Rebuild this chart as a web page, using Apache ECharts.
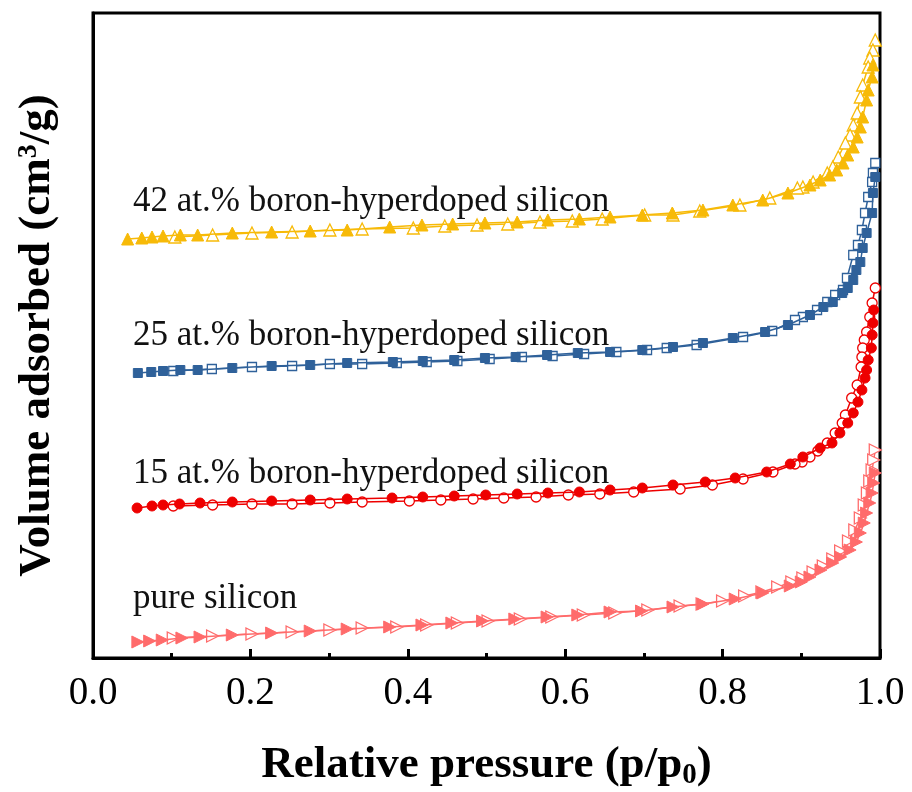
<!DOCTYPE html>
<html>
<head>
<meta charset="utf-8">
<script src="https://cdn.jsdelivr.net/npm/echarts@6/dist/echarts.min.js"></script>
<style>html,body{margin:0;padding:0;background:#fff;}#c{width:912px;height:792px;}</style>
</head>
<body>
<div id="c"></div>
<script>
// x: relative pressure p/p0 ; y: volume adsorbed (arbitrary offset units)
const xTicks = [0.0, 0.2, 0.4, 0.6, 0.8, 1.0];

const pureAds = [[0.057,16],[0.072,17],[0.088,18],[0.113,20],[0.136,21],[0.177,23],[0.227,25],[0.276,27],[0.323,29],[0.377,31],[0.418,33],[0.456,35],[0.495,37],[0.536,39],[0.577,41],[0.616,43],[0.657,46],[0.697,47],[0.737,51],[0.775,54],[0.816,59],[0.851,65],[0.886,72],[0.900,76],[0.911,81],[0.925,88],[0.940,95],[0.950,101],[0.962,108],[0.970,116],[0.975,125],[0.980,135],[0.983,145],[0.987,155],[0.990,165],[0.992,175],[0.994,185]];
const pureDes = [[0.994,208],[0.992,198],[0.990,188],[0.987,177],[0.984,165],[0.980,153],[0.975,140],[0.968,128],[0.960,117],[0.950,107],[0.940,99],[0.928,92],[0.915,86],[0.902,80],[0.888,76],[0.870,71],[0.850,66],[0.828,62],[0.800,57],[0.774,54],[0.746,52],[0.705,48],[0.663,45],[0.623,43],[0.583,41],[0.543,39],[0.502,37],[0.463,35],[0.424,33],[0.386,31],[0.342,30],[0.301,28],[0.253,26],[0.202,24],[0.152,22],[0.102,20]];

const b15Ads = [[0.056,150],[0.075,152],[0.089,153],[0.110,154],[0.136,155],[0.177,156],[0.227,157],[0.276,158],[0.323,159],[0.380,160],[0.419,161],[0.459,162],[0.499,163],[0.539,164],[0.578,165],[0.618,166],[0.657,168],[0.698,170],[0.737,173],[0.778,176],[0.816,180],[0.856,186],[0.886,194],[0.902,201],[0.924,210],[0.939,215],[0.949,225],[0.959,235],[0.966,245],[0.972,256],[0.977,268],[0.981,280],[0.983,288],[0.985,298],[0.989,310],[0.990,323],[0.991,335],[0.992,348]];
const b15Des = [[0.994,370],[0.990,355],[0.987,341],[0.983,326],[0.980,318],[0.978,310],[0.977,301],[0.976,291],[0.971,273],[0.964,260],[0.956,243],[0.952,235],[0.943,225],[0.933,215],[0.921,207],[0.911,201],[0.901,196],[0.892,194],[0.864,186],[0.826,179],[0.787,173],[0.746,169],[0.687,166],[0.644,164],[0.604,163],[0.563,161],[0.522,160],[0.483,159],[0.442,158],[0.402,157],[0.342,156],[0.301,155],[0.253,154],[0.202,154],[0.152,153],[0.102,152]];

const b25Ads = [[0.057,285],[0.074,286],[0.089,287],[0.111,288],[0.133,288],[0.177,290],[0.227,292],[0.276,293],[0.323,295],[0.381,296],[0.419,297],[0.459,298],[0.498,300],[0.537,301],[0.577,303],[0.616,305],[0.657,306],[0.698,308],[0.737,311],[0.775,315],[0.813,320],[0.854,326],[0.883,333],[0.911,343],[0.928,351],[0.940,356],[0.952,365],[0.959,370],[0.966,378],[0.970,388],[0.975,396],[0.978,410],[0.983,425],[0.990,445],[0.991,465],[0.994,481]];
const b25Des = [[0.994,495],[0.991,485],[0.990,476],[0.985,461],[0.981,445],[0.977,428],[0.972,413],[0.966,403],[0.958,380],[0.953,368],[0.943,363],[0.933,356],[0.920,348],[0.902,341],[0.892,338],[0.863,327],[0.826,321],[0.767,313],[0.729,310],[0.704,308],[0.665,306],[0.624,304],[0.584,302],[0.545,301],[0.504,299],[0.463,297],[0.424,296],[0.386,295],[0.342,294],[0.301,294],[0.253,292],[0.202,291],[0.151,289],[0.102,287]];

const b42Ads = [[0.044,419],[0.062,420],[0.075,421],[0.089,422],[0.111,423],[0.133,423],[0.177,425],[0.227,426],[0.276,427],[0.323,428],[0.377,431],[0.418,433],[0.457,434],[0.498,435],[0.539,436],[0.578,438],[0.618,439],[0.657,441],[0.698,443],[0.736,445],[0.775,448],[0.813,453],[0.851,458],[0.883,465],[0.911,473],[0.924,478],[0.936,483],[0.945,488],[0.953,495],[0.959,503],[0.966,511],[0.971,521],[0.975,531],[0.978,541],[0.983,558],[0.985,568],[0.990,581],[0.991,593]];
const b42Des = [[0.994,618],[0.991,608],[0.987,600],[0.985,591],[0.978,573],[0.975,561],[0.971,545],[0.966,533],[0.962,523],[0.956,515],[0.947,501],[0.940,491],[0.933,485],[0.915,476],[0.902,471],[0.895,470],[0.860,460],[0.822,453],[0.771,447],[0.737,443],[0.701,443],[0.647,439],[0.609,437],[0.568,436],[0.527,434],[0.488,433],[0.447,432],[0.407,430],[0.342,429],[0.301,428],[0.253,426],[0.202,425],[0.152,423],[0.104,421]];

const sampleLabels = ['42 at.% boron-hyperdoped silicon','25 at.% boron-hyperdoped silicon','15 at.% boron-hyperdoped silicon','pure silicon'];

const C42 = '#F7BA08', C25 = '#2F619A', C15 = '#EE0000', CPure = '#FF6B6B';

function ser(data, color, symbol, filled, size, rot) {
  return {
    type: 'line', data: data, symbol: symbol, symbolSize: size, symbolRotate: rot || 0,
    lineStyle: {color: color, width: 1.5},
    itemStyle: filled ? {color: color, borderColor: color, borderWidth: 1}
                      : {color: '#ffffff', borderColor: color, borderWidth: 1.3},
    showSymbol: true, animation: false, z: filled ? 3 : 2
  };
}

const chart = echarts.init(document.getElementById('c'));
const labelFont = {fontFamily: 'Liberation Serif', fontSize: 35, fill: '#111'};
chart.setOption({
  backgroundColor: '#fff',
  animation: false,
  grid: {left: 93, right: 32, top: 13, bottom: 134, show: true, borderColor: '#000', borderWidth: 3,
    backgroundColor: 'transparent', containLabel: false, outerBoundsMode: 'none'},
  xAxis: {
    type: 'value', min: 0, max: 1, interval: 0.2,
    axisLine: {show: true, lineStyle: {color: '#000', width: 3}},
    axisTick: {show: true, inside: true, length: 9, lineStyle: {color: '#000', width: 3}},
    minorTick: {show: true, splitNumber: 2, length: 5, lineStyle: {color: '#000', width: 3}},
    splitLine: {show: false},
    axisLabel: {margin: 16, fontFamily: 'Liberation Serif', fontSize: 39, color: '#000',
      formatter: v => v.toFixed(1)},
    name: 'Relative pressure (p/p{sub|0})', nameLocation: 'middle', nameGap: 82,
    nameTextStyle: {fontFamily: 'Liberation Serif', fontWeight: 'bold', fontSize: 45, color: '#000',
      rich: {sub: {fontFamily: 'Liberation Serif', fontWeight: 'bold', fontSize: 29, verticalAlign: 'top', padding: [21, 0, 0, 0]}}}
  },
  yAxis: {
    type: 'value', min: 0, max: 645,
    axisLine: {show: true, lineStyle: {color: '#000', width: 3}},
    axisTick: {show: false}, axisLabel: {show: false}, splitLine: {show: false},
    name: 'Volume adsorbed (cm{sup|3}/g)', nameLocation: 'middle', nameGap: 33, nameRotate: 90,
    nameTextStyle: {fontFamily: 'Liberation Serif', fontWeight: 'bold', fontSize: 45, color: '#000',
      rich: {sup: {fontFamily: 'Liberation Serif', fontWeight: 'bold', fontSize: 28, verticalAlign: 'top', lineHeight: 22}}}
  },
  graphic: [
    {type: 'text', left: 133, top: 184, style: Object.assign({text: sampleLabels[0]}, labelFont)},
    {type: 'text', left: 133, top: 318, style: Object.assign({text: sampleLabels[1]}, labelFont)},
    {type: 'text', left: 133, top: 456, style: Object.assign({text: sampleLabels[2]}, labelFont)},
    {type: 'text', left: 133, top: 581, style: Object.assign({text: sampleLabels[3]}, labelFont)}
  ],
  series: [
    ser(pureDes, CPure, 'triangle', false, 12, -90),
    ser(pureAds, CPure, 'triangle', true, 12, -90),
    ser(b15Des, C15, 'circle', false, 10),
    ser(b15Ads, C15, 'circle', true, 10),
    ser(b25Des, C25, 'rect', false, 9),
    ser(b25Ads, C25, 'rect', true, 9),
    ser(b42Des, C42, 'triangle', false, 12),
    ser(b42Ads, C42, 'triangle', true, 12)
  ]
});
</script>
</body>
</html>
